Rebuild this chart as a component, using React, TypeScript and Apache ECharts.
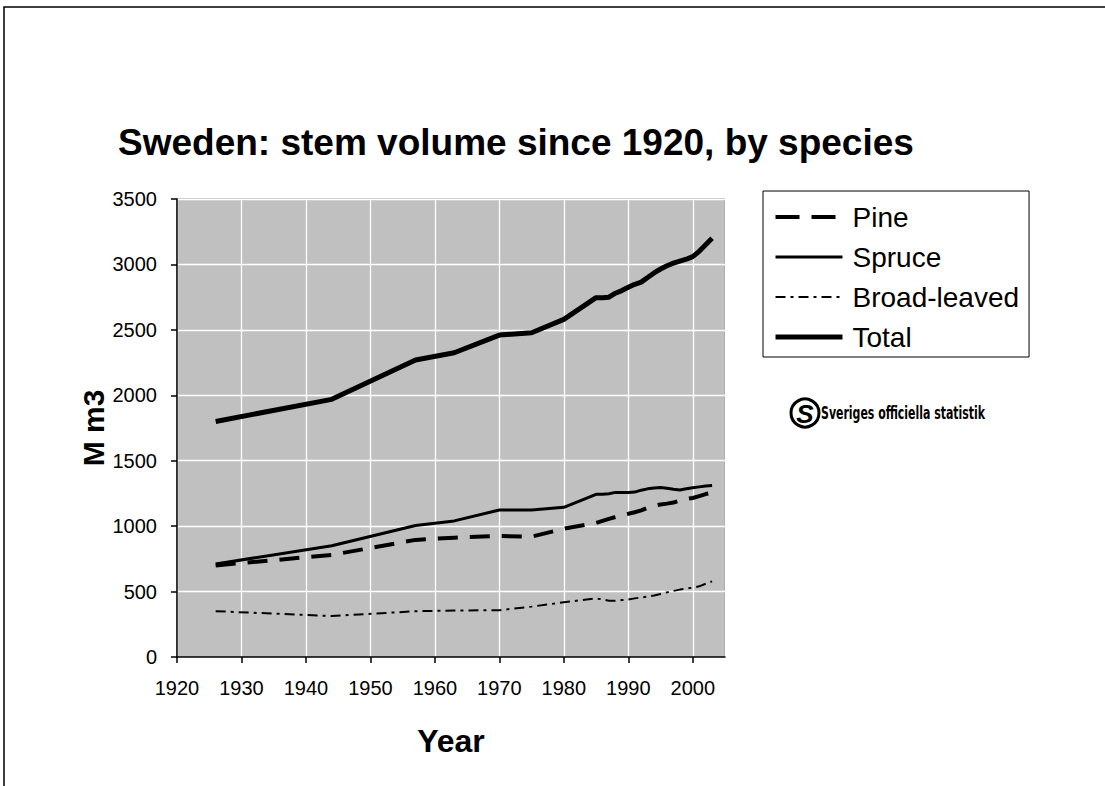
import React, { useEffect, useRef } from "react";
import * as echarts from "echarts";

const FONT = "'Liberation Sans', Arial, Helvetica, sans-serif";

const years = [1926, 1944, 1957, 1963, 1970, 1975, 1980, 1985, 1986, 1987, 1988, 1989, 1990, 1991, 1992, 1993, 1994, 1995, 1996, 1997, 1998, 1999, 2000, 2001, 2002, 2003];
const pine = [700, 780, 895, 912, 925, 920, 980, 1025, 1040, 1055, 1070, 1085, 1095, 1106, 1120, 1140, 1156, 1165, 1172, 1180, 1195, 1208, 1215, 1230, 1245, 1255];
const spruce = [711, 850, 1005, 1040, 1123, 1123, 1144, 1243, 1243, 1248, 1258, 1258, 1258, 1260, 1275, 1285, 1292, 1295, 1290, 1282, 1277, 1285, 1293, 1300, 1307, 1310];
const broadLeaved = [350, 313, 350, 355, 358, 385, 418, 448, 440, 430, 430, 435, 440, 448, 455, 461, 470, 482, 494, 505, 515, 522, 530, 540, 560, 578];
const total = [1800, 1969, 2270, 2325, 2460, 2478, 2580, 2746, 2746, 2750, 2780, 2800, 2825, 2848, 2865, 2900, 2935, 2965, 2990, 3010, 3025, 3040, 3060, 3100, 3150, 3200];

const seriesNames = ["Pine", "Spruce", "Broad-leaved", "Total"];
const titleText = "Sweden: stem volume since 1920, by species";
const yAxisName = "M m3";
const xAxisName = "Year";
const sourceText = "Sveriges officiella statistik";

const pairs = (vals: number[]) => years.map((y, i) => [y, vals[i]]);

const lineStyles: any[] = [
  { color: "#000", width: 4, type: [20, 12] },
  { color: "#000", width: 3, type: "solid" },
  { color: "#000", width: 2, type: [10, 5, 3, 5] },
  { color: "#000", width: 5, type: "solid" },
];
const legendLineStyles: any[] = [
  { color: "#000", width: 4, type: [24, 12], opacity: 1 },
  { color: "#000", width: 3, type: "solid", opacity: 1 },
  { color: "#000", width: 2, type: [10, 5, 3, 5], opacity: 1 },
  { color: "#000", width: 5, type: "solid", opacity: 1 },
];

export default function App() {
  const ref = useRef<HTMLDivElement>(null);
  useEffect(() => {
    if (!ref.current) return;
    const chart = echarts.init(ref.current, undefined, { renderer: "svg" });
    chart.setOption({
      animation: false,
      backgroundColor: "#ffffff",
      color: ["#000", "#000", "#000", "#000"],
      title: {
        text: titleText,
        left: 118,
        top: 124,
        padding: 0,
        textStyle: { fontFamily: FONT, fontSize: 37, fontWeight: "bold", color: "#000" },
      },
      grid: {
        left: 177,
        top: 199,
        width: 548,
        height: 458,
        show: true,
        backgroundColor: "#C0C0C0",
        borderColor: "#808080",
        borderWidth: 1,
      },
      legend: {
        orient: "vertical",
        left: 763,
        top: 191,
        itemWidth: 67,
        itemHeight: 14,
        itemGap: 12,
        padding: [12, 10, 6, 10],
        borderColor: "#000",
        borderWidth: 1,
        itemStyle: { opacity: 0 },
        textStyle: { fontFamily: FONT, fontSize: 28, color: "#000", padding: [0, 0, 0, 5] },
        data: seriesNames.map((n, i) => ({
          name: n,
          itemStyle: { opacity: 0 },
          lineStyle: legendLineStyles[i],
        })),
      },
      xAxis: {
        type: "value",
        min: 1920,
        max: 2005,
        interval: 10,
        name: xAxisName,
        nameLocation: "middle",
        nameGap: 68,
        nameTextStyle: { fontFamily: FONT, fontSize: 32, fontWeight: "bold", color: "#000" },
        axisLine: { show: true, lineStyle: { color: "#000", width: 1.5 } },
        axisTick: { show: true, length: 6, lineStyle: { color: "#000", width: 1.5 } },
        axisLabel: {
          fontFamily: FONT,
          fontSize: 20,
          color: "#000",
          margin: 21,
          showMaxLabel: false,
          formatter: (v: number) => (v % 10 === 0 ? String(v) : ""),
        },
        splitLine: { show: true, lineStyle: { color: "#ffffff", width: 1.3 } },
      },
      yAxis: {
        type: "value",
        min: 0,
        max: 3500,
        interval: 500,
        name: yAxisName,
        nameLocation: "middle",
        nameGap: 66,
        nameTextStyle: { fontFamily: FONT, fontSize: 30, fontWeight: "bold", color: "#000" },
        axisLine: { show: true, lineStyle: { color: "#000", width: 1.5 } },
        axisTick: { show: true, length: 6, lineStyle: { color: "#000", width: 1.5 } },
        axisLabel: {
          fontFamily: FONT,
          fontSize: 20,
          color: "#000",
          margin: 20,
          formatter: (v: number) => String(v),
        },
        splitLine: { show: true, lineStyle: { color: "#ffffff", width: 1.3 } },
      },
      series: seriesNames.map((n, i) => ({
        name: n,
        type: "line",
        symbol: "none",
        data: pairs([pine, spruce, broadLeaved, total][i]),
        itemStyle: { color: "#000" },
        lineStyle: lineStyles[i],
      })),
      graphic: [
        {
          type: "rect",
          silent: true,
          z: -10,
          shape: { x: 4, y: 7, width: 1200, height: 1000 },
          style: { fill: "none", stroke: "#000", lineWidth: 1.5 },
        },
        {
          type: "group",
          children: [
            {
              type: "circle",
              shape: { cx: 805, cy: 413, r: 14 },
              style: { fill: "#fff", stroke: "#000", lineWidth: 3 },
            },
            {
              type: "text",
              x: 805,
              y: 414,
              style: {
                text: "S",
                fontFamily: FONT,
                fontSize: 26,
                fontWeight: "bold",
                fontStyle: "italic",
                fill: "#000",
                align: "center",
                verticalAlign: "middle",
              },
            },
            {
              type: "text",
              x: 821,
              y: 413,
              scaleX: 0.716,
              style: {
                text: sourceText,
                fontFamily: "'Liberation Sans Narrow', 'DejaVu Sans Condensed', sans-serif",
                fontSize: 17,
                fontWeight: "bold",
                fill: "#000",
                align: "left",
                verticalAlign: "middle",
              },
            },
          ],
        },
      ],
    });
    return () => chart.dispose();
  }, []);
  return (
    <div
      ref={ref}
      style={{ position: "fixed", left: 0, top: 0, width: 1105, height: 786 }}
    />
  );
}
